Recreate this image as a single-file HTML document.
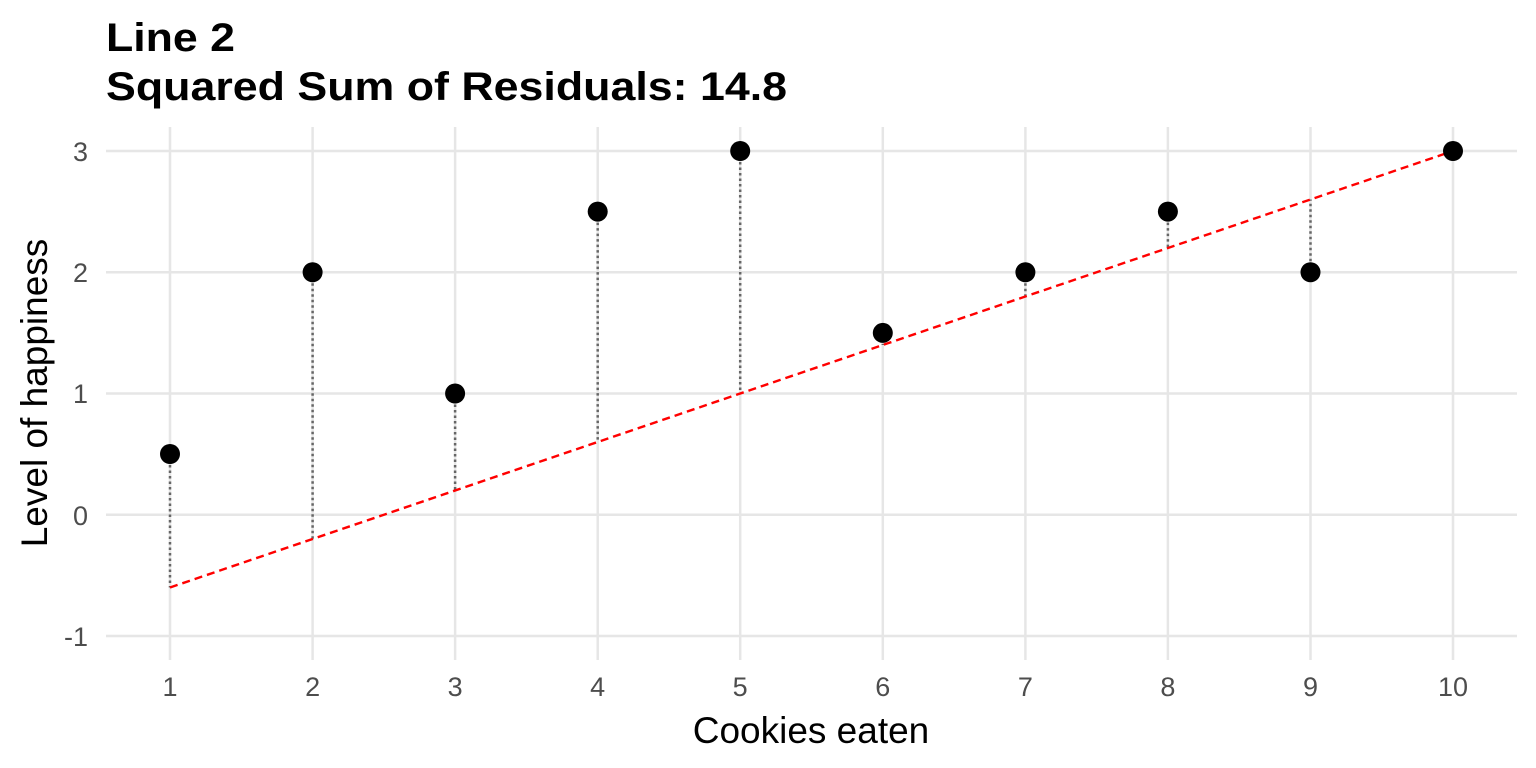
<!DOCTYPE html>
<html><head><style>body{margin:0;background:#fff}svg{display:block}</style></head><body>
<svg width="1536" height="768" xmlns="http://www.w3.org/2000/svg" font-family="Liberation Sans, sans-serif">
<rect width="1536" height="768" fill="#fff"/>
<text x="106" y="51" font-size="40" font-weight="bold" textLength="129" lengthAdjust="spacingAndGlyphs">Line 2</text>
<text x="106" y="100" font-size="40" font-weight="bold" textLength="681" lengthAdjust="spacingAndGlyphs">Squared Sum of Residuals: 14.8</text>
<g stroke="#e6e6e6" stroke-width="2.5">
<line x1="106" x2="1517" y1="151" y2="151"/><line x1="106" x2="1517" y1="272.25" y2="272.25"/>
<line x1="106" x2="1517" y1="393.5" y2="393.5"/><line x1="106" x2="1517" y1="514.75" y2="514.75"/>
<line x1="106" x2="1517" y1="636" y2="636"/>
<line x1="170" x2="170" y1="127" y2="660"/><line x1="312.6" x2="312.6" y1="127" y2="660"/>
<line x1="455.1" x2="455.1" y1="127" y2="660"/><line x1="597.7" x2="597.7" y1="127" y2="660"/>
<line x1="740.2" x2="740.2" y1="127" y2="660"/><line x1="882.8" x2="882.8" y1="127" y2="660"/>
<line x1="1025.4" x2="1025.4" y1="127" y2="660"/><line x1="1167.9" x2="1167.9" y1="127" y2="660"/>
<line x1="1310.5" x2="1310.5" y1="127" y2="660"/><line x1="1453" x2="1453" y1="127" y2="660"/>
</g>
<g stroke="#666" stroke-width="2.5" stroke-dasharray="2.5,3">
<line x1="170" x2="170" y1="454" y2="587.5"/>
<line x1="312.6" x2="312.6" y1="272.25" y2="539"/>
<line x1="455.1" x2="455.1" y1="393.5" y2="490.5"/>
<line x1="597.7" x2="597.7" y1="211.6" y2="442"/>
<line x1="740.2" x2="740.2" y1="151" y2="393.5"/>
<line x1="882.8" x2="882.8" y1="332.9" y2="345"/>
<line x1="1025.4" x2="1025.4" y1="272.25" y2="296.5"/>
<line x1="1167.9" x2="1167.9" y1="211.6" y2="248"/>
<line x1="1310.5" x2="1310.5" y1="272.25" y2="199.5"/>
</g>
<line x1="170" y1="587.5" x2="1453" y2="151" stroke="#f00" stroke-width="2.4" stroke-dasharray="8,5"/>
<g fill="#000">
<circle cx="170" cy="454" r="10"/><circle cx="312.6" cy="272.25" r="10"/><circle cx="455.1" cy="393.5" r="10"/>
<circle cx="597.7" cy="211.6" r="10"/><circle cx="740.2" cy="151" r="10"/><circle cx="882.8" cy="332.9" r="10"/>
<circle cx="1025.4" cy="272.25" r="10"/><circle cx="1167.9" cy="211.6" r="10"/><circle cx="1310.5" cy="272.25" r="10"/>
<circle cx="1453" cy="151" r="10"/>
</g>
<g font-size="27" fill="#4d4d4d" text-anchor="end">
<text x="88" y="161">3</text><text x="88" y="282">2</text><text x="88" y="403">1</text>
<text x="88" y="525">0</text><text x="88" y="646">-1</text>
</g>
<g font-size="27" fill="#4d4d4d" text-anchor="middle">
<text x="170" y="696">1</text><text x="312.6" y="696">2</text><text x="455.1" y="696">3</text>
<text x="597.7" y="696">4</text><text x="740.2" y="696">5</text><text x="882.8" y="696">6</text>
<text x="1025.4" y="696">7</text><text x="1167.9" y="696">8</text><text x="1310.5" y="696">9</text>
<text x="1453" y="696">10</text>
</g>
<text x="811" y="743" font-size="37" text-anchor="middle">Cookies eaten</text>
<text transform="translate(47,393) rotate(-90)" font-size="37" text-anchor="middle">Level of happiness</text>
</svg>
</body></html>
